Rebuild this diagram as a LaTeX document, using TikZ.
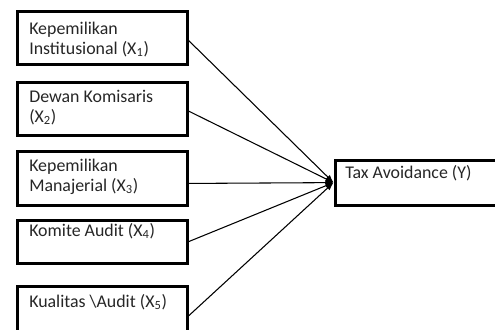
\documentclass[tikz,border=0pt]{standalone}
\usepackage{fontspec}
\setmainfont{Carlito}
\usetikzlibrary{arrows.meta}
\begin{document}
\begin{tikzpicture}
      [
        x=0.75pt, y=-0.75pt,
        box/.style={draw, line width=2.4pt, rectangle, inner sep=0pt,
          anchor=north west, minimum width=127.5pt},
        txt/.style={anchor=base west, inner sep=0pt, align=left,
          font=\fontsize{13.4}{15}\selectfont, text=black!85},
        path/.style={draw, line width=0.8pt, -{Latex[length=6pt,width=4.5pt]}}
      ]
      \useasboundingbox (0,0) rectangle (495,329);
      % variabel independen
      \node[box, minimum height=39.75pt] (x1) at (15.5,9.5) {};
      \node[box, minimum height=39.75pt] (x2) at (15.5,80.5) {};
      \node[box, minimum height=40.5pt] (x3) at (15.5,149.5) {};
      \node[box, minimum height=32.25pt] (x4) at (15.5,218.5) {};
      \node[box, minimum height=52pt] (x5) at (15.5,284.5) {};
      % variabel dependen
      \node[box, minimum width=135pt, minimum height=33.75pt] (y) at (333.5,158.5) {};

      \node[txt] (t1) at (29,54) {Kepemilikan\\Institusional (X\textsubscript{1})};
      \node[txt] (t2) at (29,122) {Dewan Komisaris\\(X\textsubscript{2})};
      \node[txt] (t3) at (29,191) {Kepemilikan\\Manajerial (X\textsubscript{3})};
      \node[txt] (t4) at (29,236) {Komite Audit (X\textsubscript{4})};
      \node[txt] (t5) at (29,307) {Kualitas \textbackslash Audit (X\textsubscript{5})};
      \node[txt] (ty) at (345,178) {Tax Avoidance (Y)};

      \draw[path] ([yshift=-2.25pt]x1.east) -- (y.west);
      \draw[path] ([yshift=-1.9pt]x2.east) -- (y.west);
      \draw[path] ([yshift=-4pt]x3.east) -- (y.west);
      \draw[path] (x4.east) -- (y.west);
      \draw[path] ([yshift=3.75pt]x5.east) -- (y.west);
\end{tikzpicture}
\end{document}
